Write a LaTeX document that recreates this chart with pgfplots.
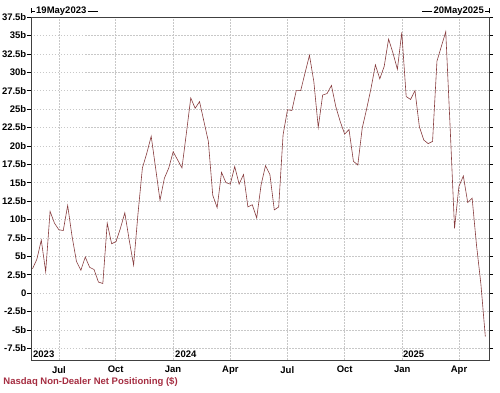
\documentclass[border=0pt]{standalone}
\usepackage{fontspec}
\setmainfont{Liberation Sans}
\usepackage{pgfplots}
\usepackage{pgfplotstable}
\pgfplotsset{compat=1.18}
\definecolor{linec}{RGB}{135,60,62}
\definecolor{titlec}{RGB}{165,45,65}
\definecolor{gridc}{RGB}{200,200,200}
\pgfplotstableread{
i v
0 3.3
1 4.6
2 7.2
3 2.9
4 11.1
5 9.5
6 8.6
7 8.5
8 11.9
9 7.7
10 4.3
11 3.1
12 4.9
13 3.5
14 3.2
15 1.5
16 1.3
17 9.5
18 6.7
19 7.0
20 8.8
21 10.9
22 7.2
23 3.8
24 10.8
25 17.0
26 19.0
27 21.3
28 17.0
29 12.6
30 15.6
31 17.0
32 19.2
33 18.1
34 17.0
35 21.7
36 26.5
37 25.1
38 26.0
39 23.3
40 20.6
41 13.3
42 11.6
43 16.4
44 15.0
45 14.8
46 17.2
47 14.8
48 16.1
49 11.7
50 12.0
51 10.2
52 14.7
53 17.3
54 16.1
55 11.3
56 11.7
57 21.5
58 24.9
59 24.8
60 27.5
61 27.5
62 29.9
63 32.3
64 28.7
65 22.5
66 26.9
67 27.1
68 28.2
69 25.3
70 23.3
71 21.6
72 22.2
73 17.9
74 17.4
75 22.4
76 25.0
77 27.8
78 31.0
79 29.1
80 30.8
81 34.5
82 32.6
83 30.4
84 35.4
85 26.7
86 26.3
87 27.5
88 22.6
89 20.8
90 20.3
91 20.6
92 31.5
93 33.5
94 35.5
95 22.5
96 8.8
97 14.5
98 15.9
99 12.3
100 12.9
101 6.5
102 1.2
103 -5.9
}\nasdaq
\begin{document}
\begin{tikzpicture}[font=\fontsize{9.5}{11}\selectfont\bfseries]
\begin{axis}[
  scale only axis, width=458pt, height=343pt,
  xmin=-0.34, xmax=103.84, ymin=-9.09, ymax=37.5,
  clip=false,
  xtick={6.03,18.93,31.96,45.0,57.96,71.02,84.12,97.02},
  xticklabels={Jul,Oct,Jan,Apr,Jul,Oct,Jan,Apr},
  ytick={-7.5,-5,-2.5,0,2.5,5,7.5,10,12.5,15,17.5,20,22.5,25,27.5,30,32.5,35,37.5},
  yticklabels={-7.5b,-5b,-2.5b,0,2.5b,5b,7.5b,10b,12.5b,15b,17.5b,20b,22.5b,25b,27.5b,30b,32.5b,35b,37.5b},
  ticklabel style={font=\fontsize{9.5}{11}\selectfont\bfseries, text=black},
  yticklabel style={inner sep=0.5pt},
  xticklabel style={inner sep=1pt, yshift=-1pt},
  grid=major,
  grid style={gridc, dash pattern=on 1.5pt off 1.5pt, line width=0.5pt},
  axis line style={black!75, line width=0.9pt},
  tick align=outside,
  major tick length=4pt,
  x tick style={draw=none},
  y tick style={black, line width=0.6pt},
]
\addplot[linec, line width=0.6pt, mark=none] table[x=i, y=v] {\nasdaq};
\coordinate (SW) at (rel axis cs:0,0);
\coordinate (NW) at (rel axis cs:0,1);
\coordinate (NE) at (rel axis cs:1,1);
\node[anchor=south west, inner sep=0pt] at (axis cs:0.11,-8.85) {2023};
\node[anchor=south west, inner sep=0pt] at (axis cs:32.42,-8.85) {2024};
\node[anchor=south west, inner sep=0pt] at (axis cs:84.25,-8.85) {2025};
\end{axis}
% top date labels
\node[anchor=west, inner sep=0pt] (t1) at ([xshift=5pt, yshift=6pt]NW) {19May2023};
\draw[line width=0.6pt] ([yshift=6pt]NW) -- ([xshift=-1pt]t1.west);
\draw[line width=0.6pt] ([yshift=3.5pt]NW) -- ++(0,5pt);
\draw[line width=0.6pt] ([xshift=1pt]t1.east) -- ++(10pt,0);
\node[anchor=east, inner sep=0pt] (t2) at ([xshift=-5pt, yshift=6pt]NE) {20May2025};
\draw[line width=0.6pt] ([yshift=6pt]NE) -- ([xshift=1pt]t2.east);
\draw[line width=0.6pt] ([yshift=3.5pt]NE) -- ++(0,5pt);
\draw[line width=0.6pt] ([xshift=-1pt]t2.west) -- ++(-10pt,0);
% title
\node[anchor=west, inner sep=0pt, text=titlec] at ([xshift=-27.7pt, yshift=-21.7pt]SW) {Nasdaq Non-Dealer Net Positioning (\$)};
\pgfresetboundingbox
\path[use as bounding box] ([xshift=-31pt, yshift=-33pt]SW) rectangle ++(500pt,393pt);
\end{tikzpicture}
\end{document}
